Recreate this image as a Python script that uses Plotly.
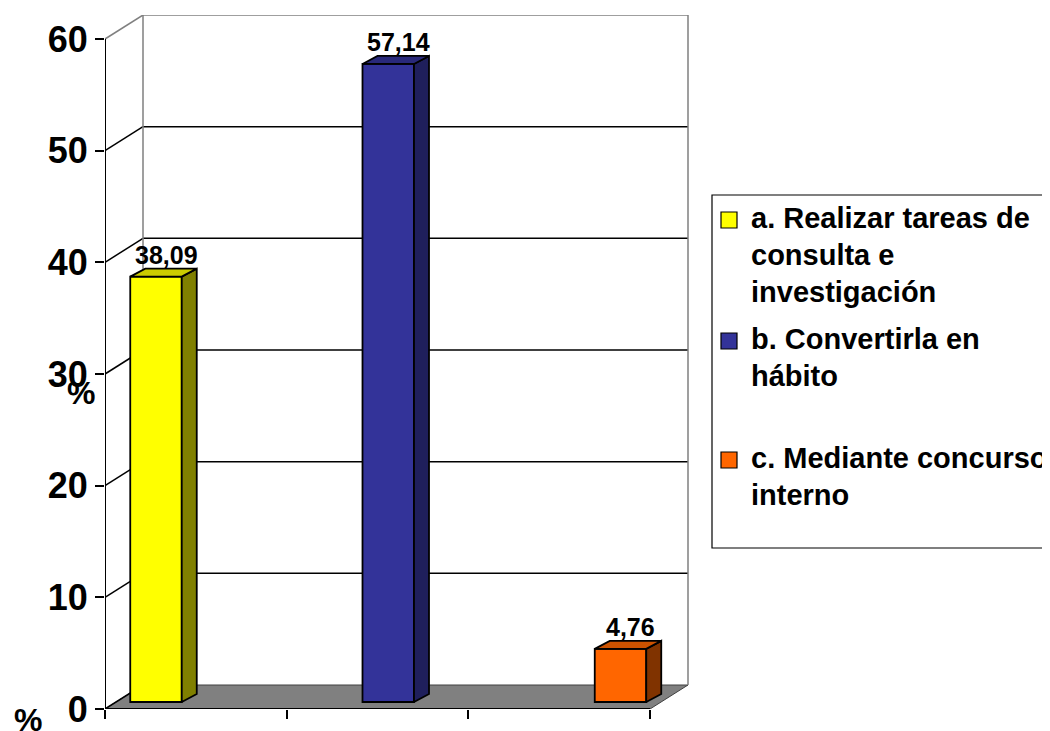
import plotly.graph_objects as go

# ---------------- data ----------------
categories = ["a. Realizar tareas de consulta e investigación",
              "b. Convertirla en hábito",
              "c. Mediante concurso interno"]
values = [38.09, 57.14, 4.76]
value_labels = ["38,09", "57,14", "4,76"]
legend_lines = [["a. Realizar tareas de", "consulta e", "investigación"],
                ["b. Convertirla en", "hábito"],
                ["c. Mediante concurso", "interno"]]
y_ticks = [0, 10, 20, 30, 40, 50, 60]

# ---------------- styles ----------------
front_colors = ["#FFFF00", "#333399", "#FF6600"]
top_colors = ["#CCCC00", "#29297A", "#CC5200"]
side_colors = ["#808000", "#1F1F5C", "#803300"]
FONT = "Liberation Sans, Arial, sans-serif"

# ---------------- geometry (page pixels) ----------------
OFF = 8                                    # default body margin of the html page
W, H = 1050 - OFF, 731 - OFF
L, R, T, B = 105, 1050, 15, 709            # plot area in page pixels
SLOT = 545 / 3.0                           # px per category slot on front axis
PXU = (709 - 39) / 60.0                    # px per value unit
DXP, DYP = 38, 24                          # depth of walls (px)
DX, DY = DXP / SLOT, DYP / PXU
BAR0, BARSTEP, BARZERO = 156, 232.25, 702  # bar plane
BW = 51.5 / BARSTEP
SX, SY = 15 / BARSTEP, 8 / PXU
n = len(categories)


def pxx(p):
    return (p - L) / (R - L)


def pxy(p):
    return (B - p) / (B - T)


fig = go.Figure()

# bars (front faces)
for i, (c, v) in enumerate(zip(categories, values)):
    fig.add_trace(go.Bar(x=[i], y=[v], width=BW, name=c,
                         marker=dict(color=front_colors[i], line=dict(color="black", width=1.8)),
                         xaxis="x2", yaxis="y2", showlegend=False, hoverinfo="skip"))

# 3D side and top faces computed from values
for i, v in enumerate(values):
    xr = i + BW / 2
    xl = i - BW / 2
    fig.add_trace(go.Scatter(x=[xr, xr + SX, xr + SX, xr, xr], y=[0, SY, v + SY, v, 0],
                             fill="toself", fillcolor=side_colors[i], mode="lines",
                             line=dict(color="black", width=1.8), xaxis="x2", yaxis="y2",
                             showlegend=False, hoverinfo="skip"))
    fig.add_trace(go.Scatter(x=[xl, xl + SX, xr + SX, xr, xl], y=[v, v + SY, v + SY, v, v],
                             fill="toself", fillcolor=top_colors[i], mode="lines",
                             line=dict(color="black", width=1.8), xaxis="x2", yaxis="y2",
                             showlegend=False, hoverinfo="skip"))

shapes = []
# floor
shapes.append(dict(type="path", xref="x", yref="y", layer="below",
                   path=f"M0,0 L{n},0 L{n + DX},{DY} L{DX},{DY} Z",
                   fillcolor="#808080", line=dict(color="#404040", width=1)))
# back wall gridlines and side-wall diagonals
top = y_ticks[-1]
for t in y_ticks:
    col = "#808080" if t == top else "black"
    shapes.append(dict(type="line", xref="x", yref="y", layer="below",
                       x0=0, y0=t, x1=DX, y1=t + DY, line=dict(color=col, width=1.5)))
    if 0 < t < top:
        shapes.append(dict(type="line", xref="x", yref="y", layer="below",
                           x0=DX, y0=t + DY, x1=n + DX, y1=t + DY, line=dict(color="black", width=1.5)))
# back wall border (gray)
shapes.append(dict(type="path", xref="x", yref="y", layer="below",
                   path=f"M{DX},{DY} L{DX},{top + DY} L{n + DX},{top + DY} L{n + DX},{DY}",
                   line=dict(color="#808080", width=1.5)))
# front axes lines
shapes.append(dict(type="line", xref="x", yref="y", x0=0, y0=-8 / PXU, x1=0, y1=top,
                   line=dict(color="black", width=2)))
shapes.append(dict(type="line", xref="x", yref="y", x0=0, y0=0, x1=n, y1=0,
                   line=dict(color="black", width=2)))

# manual legend
shapes.append(dict(type="rect", xref="paper", yref="paper",
                   x0=pxx(712), x1=pxx(1062), y0=pxy(548), y1=pxy(195),
                   fillcolor="white", line=dict(color="black", width=1.2)))
annotations = []
first_baselines = [227, 348, 467]
LINE_H = 37
for i, lines in enumerate(legend_lines):
    b0 = first_baselines[i]
    shapes.append(dict(type="rect", xref="paper", yref="paper",
                       x0=pxx(721), x1=pxx(737), y0=pxy(b0 + 1), y1=pxy(b0 - 15),
                       fillcolor=front_colors[i], line=dict(color="black", width=1.2)))
    for k, txt in enumerate(lines):
        annotations.append(dict(xref="paper", yref="paper", x=pxx(749), y=pxy(b0 + k * LINE_H - 9),
                                xanchor="left", yanchor="middle", showarrow=False, text=txt,
                                font=dict(family=FONT, size=29, color="black", weight="bold")))

# data labels
for i, (v, lab) in enumerate(zip(values, value_labels)):
    annotations.append(dict(xref="x2", yref="y2", x=i, y=v, xshift=10, yshift=22,
                            xanchor="center", yanchor="middle", showarrow=False, text=lab,
                            font=dict(family=FONT, size=25, color="black", weight="bold")))

# "%" axis titles
annotations.append(dict(xref="paper", yref="paper", x=pxx(81), y=pxy(393), xanchor="center",
                        yanchor="middle", showarrow=False, text="%",
                        font=dict(family=FONT, size=32, color="black", weight="bold")))
annotations.append(dict(xref="paper", yref="paper", x=pxx(28), y=pxy(700), xanchor="center",
                        yanchor="top", showarrow=False, text="%",
                        font=dict(family=FONT, size=32, color="black", weight="bold")))

fig.update_layout(
    width=W, height=H,
    margin=dict(l=L - OFF, r=W - (R - OFF), t=T - OFF, b=H - (B - OFF), pad=0),
    paper_bgcolor="white", plot_bgcolor="rgba(0,0,0,0)",
    barmode="overlay", showlegend=False,
    xaxis=dict(range=[0, (R - L) / SLOT], showgrid=False, zeroline=False, showline=False,
               tickmode="array", tickvals=list(range(n + 1)), ticks="outside", ticklen=9,
               tickwidth=2, tickcolor="black", showticklabels=False, fixedrange=True),
    yaxis=dict(range=[0, (B - T) / PXU], showgrid=False, zeroline=False, showline=False,
               tickmode="array", tickvals=y_ticks, ticks="outside", ticklen=9, tickwidth=2,
               tickcolor="black",
               tickfont=dict(family=FONT, size=36, color="black", weight="bold"), fixedrange=True),
    xaxis2=dict(overlaying="x", range=[(L - BAR0) / BARSTEP, (R - BAR0) / BARSTEP], visible=False,
                fixedrange=True),
    yaxis2=dict(overlaying="y", range=[-(B - BARZERO) / PXU, (BARZERO - T) / PXU], visible=False,
                fixedrange=True),
    shapes=shapes, annotations=annotations,
)

fig.write_html("out.html")
